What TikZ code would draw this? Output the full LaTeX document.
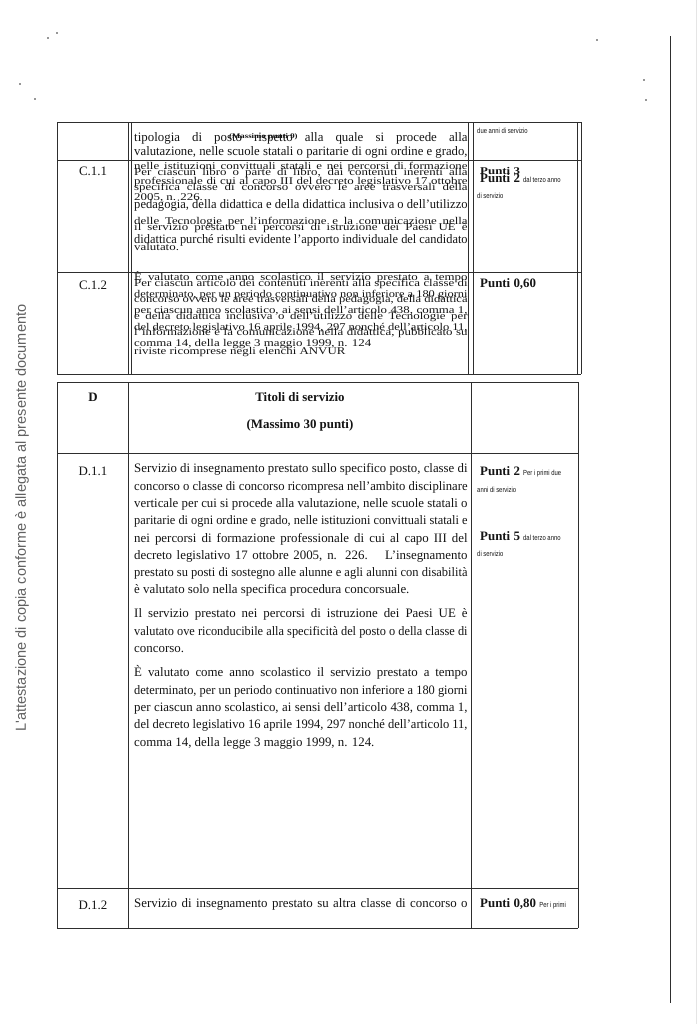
\documentclass[tikz,border=0pt]{standalone}
\usepackage{fontspec}
\setmainfont{Liberation Serif}
\newfontfamily\sidefont{Liberation Sans}
\newfontfamily\tinyfont{Liberation Sans}[FakeStretch=0.8]
\definecolor{ink}{HTML}{141414}
\definecolor{edge}{HTML}{2E2E2E}
\newsavebox\linebox
\newcommand\jline[1]{\sbox\linebox{#1}%
  \ifdim\wd\linebox>10cm \resizebox{10cm}{\height}{\usebox\linebox}\else\makebox[10cm][s]{#1}\fi}
\newcommand\squash[1]{\scalebox{1}[0.8]{#1}}
\newcommand\smallnote[1]{{\tinyfont\mdseries\fontsize{6.3}{7}\selectfont #1}}
\begin{document}
\begin{tikzpicture}
[x=0.03cm,y=-0.03cm,
  rule/.style={draw=edge,line width=0.75pt},
  body/.style={anchor=west,inner sep=0pt,text=ink,text height=0.7em,text depth=0.22em,
    font=\fontsize{11}{13}\selectfont},
  code/.style={inner sep=0pt,text=ink,font=\fontsize{11}{13}\selectfont},
  head/.style={inner sep=0pt,text=ink,font=\bfseries\fontsize{11}{13}\selectfont},
  score/.style={anchor=west,inner sep=0pt,text=ink,text height=0.7em,text depth=0.22em,
    font=\bfseries\fontsize{11}{13}\selectfont},
  note/.style={anchor=west,inner sep=0pt,text=ink,font=\tinyfont\fontsize{6.3}{7}\selectfont},
  speck/.style={fill=edge,draw=none}]
\useasboundingbox (0,0) rectangle (700,1024);
\fill[white] (0,0) rectangle (700,1024);
%% page edges and specks
\draw[draw=gray!20,line width=0.4pt] (696,0) -- (696,1024);
\draw[rule] (670,36) -- (670,1003);
\foreach \x/\y in {48/38, 57/33, 20/84, 35/99, 644/80, 646/100, 597/40}
  \fill[speck] (\x,\y) circle (0.8);
\node[rotate=90,inner sep=0pt,text=gray!75!black,font=\sidefont\fontsize{12.4}{14}\selectfont]
  (attest) at (22,518) {L'attestazione di copia conforme è allegata al presente documento};
%% table C
\foreach \y in {122,160,272,374} \draw[rule] (57,\y) -- (581,\y);
\foreach \x in {57,128,131,468,473,577,581} \draw[rule] (\x,122) -- (\x,374);
%% table D
\foreach \y in {382,453,888,928} \draw[rule] (57,\y) -- (578,\y);
\foreach \x in {57,128,471,578} \draw[rule] (\x,382) -- (\x,928);
%% first row
\node[body] (top-1) at (134,139) {\jline{tipologia di posto rispetto alla quale si procede alla}};
\node[body] (top-2) at (134,153) {\jline{valutazione, nelle scuole statali o paritarie di ogni ordine e grado,}};
\node[anchor=west,inner sep=0pt,text=ink,font=\bfseries\fontsize{7.5}{8}\selectfont]
  (top-over) at (229,137) {\squash{(Massimo punti 9)}};
\node[note] (top-note) at (477,131) {due anni di servizio};
%% C.1.1
\node[code] (c11) at (93,171) {C.1.1};
\foreach \y/\txt [count=\i] in {
  167/{nelle istituzioni convittuali statali e nei percorsi di formazione},
  173/{Per ciascun libro o parte di libro, dai contenuti inerenti alla},
  182/{professionale di cui al capo III del decreto legislativo 17 ottobre},
  188/{specifica classe di concorso ovvero le aree trasversali della},
  222/{delle Tecnologie per l'informazione e la comunicazione nella},
  228/{il servizio prestato nei percorsi di istruzione dei Paesi UE è}} {
  \node[body] (c11-\i) at (134,\y) {\squash{\jline{\txt}}};
}
\node[body] (c11-7) at (134,198) {\squash{2005, n. 226.}};
\node[body] (c11-8) at (134,206) {\jline{pedagogia, della didattica e della didattica inclusiva o dell'utilizzo}};
\node[body] (c11-9) at (134,241) {\jline{didattica purché risulti evidente l'apporto individuale del candidato}};
\node[body] (c11-10) at (134,248) {\squash{valutato.}};
\node[score] (c11-p3) at (480,172) {\squash{Punti 3}};
\node[score] (c11-p2) at (480,180) {Punti 2 \smallnote{dal terzo anno}};
\node[note] (c11-n) at (477,196) {di servizio};
%% C.1.2
\node[code] (c12) at (93,285) {C.1.2};
\foreach \y/\txt [count=\i] in {
  278/{È valutato come anno scolastico il servizio prestato a tempo},
  283.5/{Per ciascun articolo dei contenuti inerenti alla specifica classe di},
  294.5/{determinato, per un periodo continuativo non inferiore a 180 giorni},
  300/{concorso ovvero le aree trasversali della pedagogia, della didattica},
  311/{per ciascun anno scolastico, ai sensi dell'articolo 438, comma 1,},
  316.5/{e della didattica inclusiva o dell'utilizzo delle Tecnologie per},
  327.5/{del decreto legislativo 16 aprile 1994, 297 nonché dell'articolo 11,},
  333/{l'informazione e la comunicazione nella didattica, pubblicato su}} {
  \node[body] (c12-\i) at (134,\y) {\squash{\jline{\txt}}};
}
\node[body] (c12-9) at (134,344) {\squash{comma 14, della legge 3 maggio 1999, n. 124}};
\node[body] (c12-10) at (134,352) {\squash{riviste ricomprese negli elenchi ANVUR}};
\node[score] (c12-p) at (480,285) {Punti 0,60};
%% D
\node[head] (d) at (93,397) {D};
\node[head] (d-title) at (300,397) {Titoli di servizio};
\node[head] (d-max) at (300,425) {(Massimo 30 punti)};
%% D.1.1
\node[code] (d11) at (93,471) {D.1.1};
\foreach \y/\txt [count=\i] in {
  470/{Servizio di insegnamento prestato sullo specifico posto, classe di},
  487.3/{concorso o classe di concorso ricompresa nell'ambito disciplinare},
  504.6/{verticale per cui si procede alla valutazione, nelle scuole statali o},
  521.9/{paritarie di ogni ordine e grado, nelle istituzioni convittuali statali e},
  539.2/{nei percorsi di formazione professionale di cui al capo III del},
  556.5/{decreto legislativo 17 ottobre 2005, n. 226. \ \ L'insegnamento},
  573.8/{prestato su posti di sostegno alle alunne e agli alunni con disabilità},
  615/{Il servizio prestato nei percorsi di istruzione dei Paesi UE è},
  632.3/{valutato ove riconducibile alla specificità del posto o della classe di},
  674/{È valutato come anno scolastico il servizio prestato a tempo},
  691.3/{determinato, per un periodo continuativo non inferiore a 180 giorni},
  708.6/{per ciascun anno scolastico, ai sensi dell'articolo 438, comma 1,},
  725.9/{del decreto legislativo 16 aprile 1994, 297 nonché dell'articolo 11,}} {
  \node[body] (d11-\i) at (134,\y) {\jline{\txt}};
}
\node[body] (d11-14) at (134,591.1) {è valutato solo nella specifica procedura concorsuale.};
\node[body] (d11-15) at (134,649.6) {concorso.};
\node[body] (d11-16) at (134,743.2) {comma 14, della legge 3 maggio 1999, n. 124.};
\node[score] (d11-p2) at (480,473) {Punti 2 \smallnote{Per i primi due}};
\node[note] (d11-n2) at (477,490) {anni di servizio};
\node[score] (d11-p5) at (480,538) {Punti 5 \smallnote{dal terzo anno}};
\node[note] (d11-n5) at (477,554) {di servizio};
%% D.1.2
\node[code] (d12) at (93,905) {D.1.2};
\node[body] (d12-1) at (134,905) {\jline{Servizio di insegnamento prestato su altra classe di concorso o}};
\node[score] (d12-p) at (480,905) {Punti 0,80 \smallnote{Per i primi}};
\end{tikzpicture}
\end{document}
